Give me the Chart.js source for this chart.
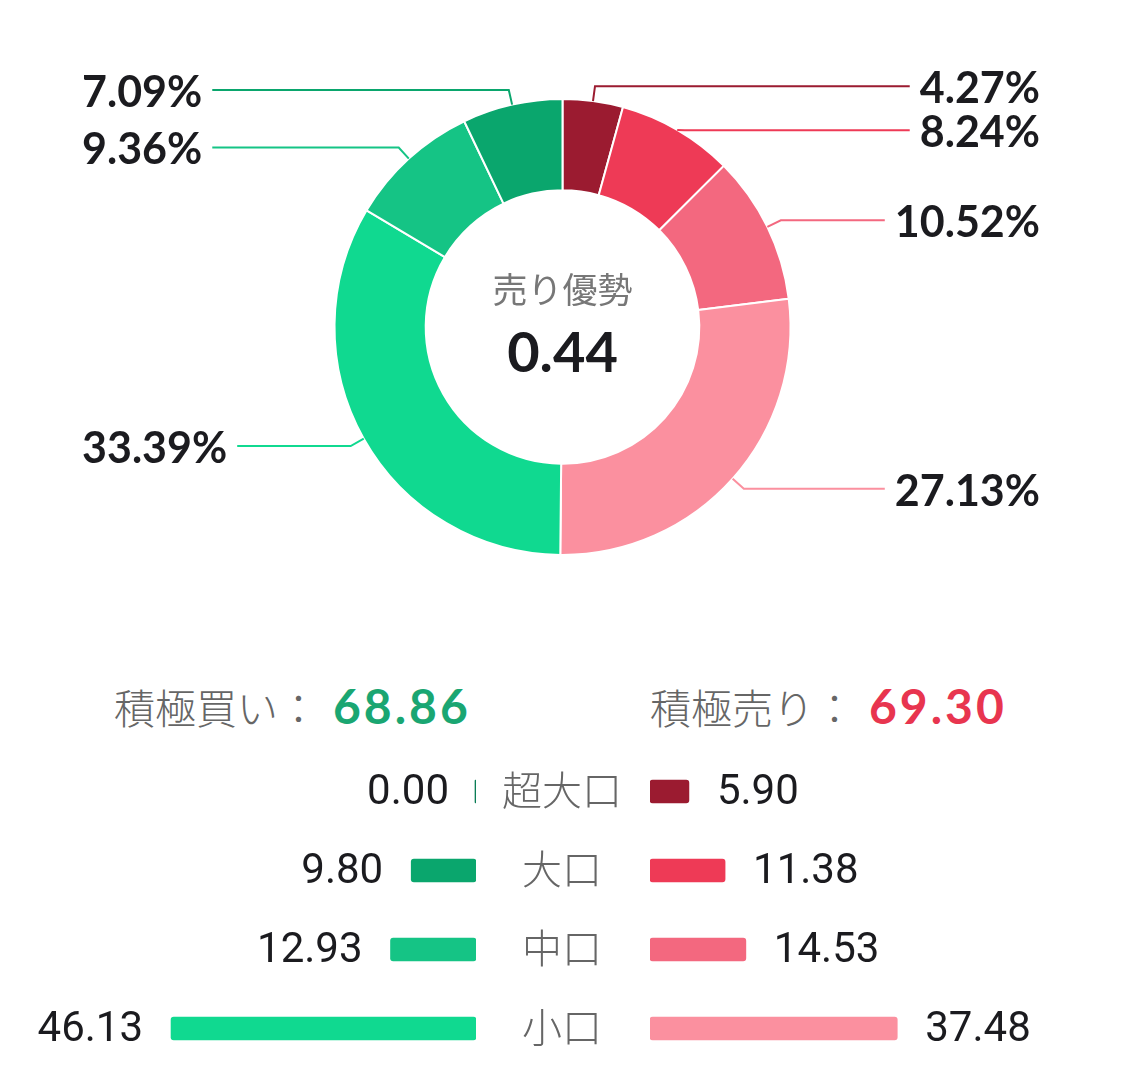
<!DOCTYPE html>
<html>
<head>
<meta charset="utf-8">
<script src="https://cdn.jsdelivr.net/npm/chart.js@4.4.1/dist/chart.umd.min.js"></script>
<style>
  body { margin: 0; background: #fff; }
  #wrap { position: relative; width: 1125px; height: 1092px; overflow: hidden; }
  canvas { position: absolute; }
  .cjk { font-family: "Noto Sans CJK JP", sans-serif; font-weight: 300; color: #666; }
  .total { position: absolute; top: 678px; height: 56px; line-height: 56px; white-space: nowrap; font-size: 41px; }
  .total b { font-family: Lato, sans-serif; font-weight: 700; font-size: 48px; letter-spacing: 3px; margin-left: 14px; vertical-align: top; }
  .cat { position: absolute; left: 462px; width: 200px; text-align: center; font-size: 40px; height: 50px; line-height: 50px; }
</style>
</head>
<body>
<div id="wrap">
  <canvas id="donut" width="1125" height="654" style="left:0;top:0"></canvas>
  <div class="total cjk" style="left:114px">積極買い：<b id="buyTotal" style="color:#1aa672"></b></div>
  <div class="total cjk" style="left:650px">積極売り：<b id="sellTotal" style="color:#e8354f"></b></div>
  <canvas id="buyBars" width="476" height="316" style="left:0;top:752px"></canvas>
  <canvas id="sellBars" width="475" height="316" style="left:650px;top:752px"></canvas>
</div>
<script>
const categories = ["超大口", "大口", "中口", "小口"];
const buyValues = [0.00, 9.80, 12.93, 46.13];
const sellValues = [5.90, 11.38, 14.53, 37.48];
const totals = { buy: 68.86, sell: 69.30 };
const buyColors = ["#0b7d56", "#0aa66d", "#15c485", "#10d990"];
const sellColors = ["#9b1b30", "#ee3a56", "#f3687f", "#fb909f"];
const barMax = 72;

const sum = (arr) => arr.reduce((a, b) => a + b, 0);
const grandTotal = sum(buyValues) + sum(sellValues);

document.getElementById("buyTotal").textContent = totals.buy.toFixed(2);
document.getElementById("sellTotal").textContent = totals.sell.toFixed(2);

// category names between the two bar charts
const rowH = 79;
categories.forEach((name, i) => {
    const d = document.createElement("div");
    d.className = "cat cjk";
    d.style.top = (752 + rowH * i + rowH / 2 - 29) + "px";
    d.textContent = name;
    document.getElementById("wrap").appendChild(d);
});

// doughnut: sell side clockwise from top, then buy side back up
const donutValues = [...sellValues, ...buyValues.slice().reverse()];
const donutColors = [...sellColors, ...buyColors.slice().reverse()];

const leaderLabels = {
    id: "leaderLabels",
    afterDatasetsDraw(chart) {
        const ctx = chart.ctx;
        const arcs = chart.getDatasetMeta(0).data;
        const items = [];
        arcs.forEach((arc, i) => {
            const v = donutValues[i];
            if (!v) return;
            const p = arc.getProps(["x", "y", "startAngle", "endAngle", "outerRadius"], true);
            const mid = (p.startAngle + p.endAngle) / 2;
            const ax = p.x + Math.cos(mid) * p.outerRadius;
            const ay = p.y + Math.sin(mid) * p.outerRadius;
            const ex = p.x + Math.cos(mid) * (p.outerRadius + 15);
            const ey = p.y + Math.sin(mid) * (p.outerRadius + 15);
            items.push({
                ax, ay, ex, ey, ly: ey,
                right: Math.cos(mid) >= 0,
                color: donutColors[i],
                text: (v / grandTotal * 100).toFixed(2) + "%",
            });
        });

        [true, false].forEach(side => {
            const list = items.filter(it => it.right === side).sort((a, b) => a.ey - b.ey);
            for (let k = 1; k < list.length; k++) {
                if (list[k].ly - list[k - 1].ly < 44)
                    list[k].ly = list[k - 1].ly + 44;
            }
        });

        ctx.save();
        ctx.font = "700 43px Lato, sans-serif";
        ctx.textBaseline = "middle";
        items.forEach(it => {
            const w = ctx.measureText(it.text).width;
            const endX = it.right ? 1040 - w - 10 : 82 + w + 10;
            ctx.strokeStyle = it.color;
            ctx.lineWidth = 2;
            ctx.beginPath();
            ctx.moveTo(it.ax, it.ay);
            ctx.lineTo(it.ex, it.ly);
            ctx.lineTo(endX, it.ly);
            ctx.stroke();
            ctx.fillStyle = "#1b1b1f";
            ctx.textAlign = it.right ? "right" : "left";
            ctx.fillText(it.text, it.right ? 1040 : 82, it.ly + 3);
        });

        // centre text
        const c = arcs[0];
        ctx.textAlign = "center";
        ctx.fillStyle = "#777";
        ctx.font = "400 35px 'Noto Sans CJK JP', sans-serif";
        ctx.fillText(totals.sell >= totals.buy ? "売り優勢" : "買い優勢", c.x, c.y - 37);
        ctx.fillStyle = "#1b1b1f";
        ctx.font = "700 56px Lato, sans-serif";
        ctx.fillText(Math.abs(totals.sell - totals.buy).toFixed(2), c.x, c.y + 27);
        ctx.restore();
    }
};

new Chart(document.getElementById("donut").getContext("2d"), {
    type: "doughnut",
    data: {
        labels: donutValues.map((_, i) => i),
        datasets: [{
            data: donutValues,
            backgroundColor: donutColors,
            borderColor: "#fff",
            borderWidth: 2,
            hoverOffset: 0,
        }]
    },
    options: {
        responsive: false,
        animation: false,
        radius: 228,
        cutout: "60%",
        plugins: { legend: { display: false }, tooltip: { enabled: false } },
    },
    plugins: [leaderLabels],
});

const barValueLabels = {
    id: "barValueLabels",
    afterDatasetsDraw(chart, args, opts) {
        const ctx = chart.ctx;
        const values = chart.data.datasets[0].data;
        ctx.save();
        ctx.font = "400 42px Roboto, sans-serif";
        ctx.fillStyle = "#1b1b1f";
        ctx.textBaseline = "middle";
        chart.getDatasetMeta(0).data.forEach((bar, i) => {
            const text = values[i].toFixed(2);
            if (opts.left) {
                ctx.textAlign = "right";
                ctx.fillText(text, bar.x - 28, bar.y + 2);
            } else {
                ctx.textAlign = "left";
                ctx.fillText(text, bar.x + 28, bar.y + 2);
            }
        });
        ctx.restore();
    }
};

function makeBars(id, values, colors, left) {
    new Chart(document.getElementById(id).getContext("2d"), {
        type: "bar",
        data: {
            labels: categories,
            datasets: [{
                data: values,
                backgroundColor: colors,
                barThickness: 23,
                borderRadius: 3,
                borderSkipped: false,
                minBarLength: 2,
            }]
        },
        options: {
            indexAxis: "y",
            responsive: false,
            animation: false,
            layout: { padding: 0 },
            scales: {
                x: { display: false, min: 0, max: barMax, reverse: left },
                y: { display: false },
            },
            plugins: {
                legend: { display: false },
                tooltip: { enabled: false },
                barValueLabels: { left },
            },
        },
        plugins: [barValueLabels],
    });
}

makeBars("buyBars", buyValues, buyColors, true);
makeBars("sellBars", sellValues, sellColors, false);
</script>
</body>
</html>
